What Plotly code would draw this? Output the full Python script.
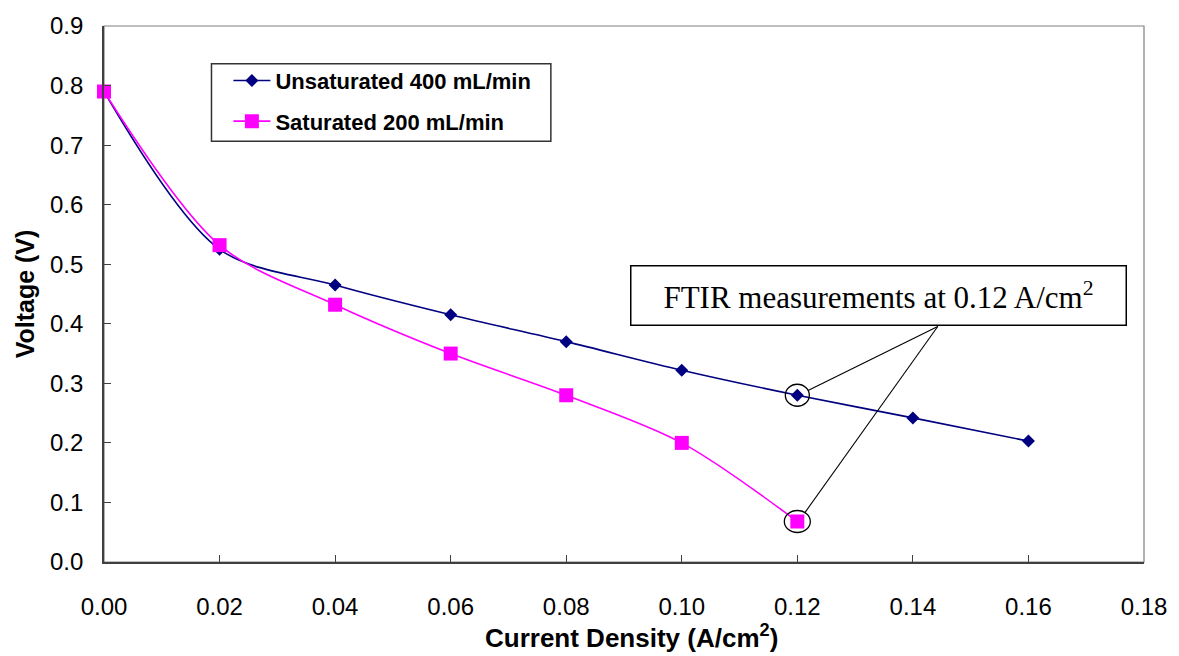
import plotly.graph_objects as go

# ---- data ----
current_density = [0.00, 0.02, 0.04, 0.06, 0.08, 0.10, 0.12, 0.14, 0.16]
unsat_400 = [0.79, 0.525, 0.465, 0.415, 0.370, 0.322, 0.280, 0.242, 0.203]
current_density_sat = [0.00, 0.02, 0.04, 0.06, 0.08, 0.10, 0.12]
sat_200 = [0.79, 0.532, 0.432, 0.350, 0.280, 0.200, 0.068]
x_ticks = [0.00, 0.02, 0.04, 0.06, 0.08, 0.10, 0.12, 0.14, 0.16, 0.18]
y_ticks = [0.0, 0.1, 0.2, 0.3, 0.4, 0.5, 0.6, 0.7, 0.8, 0.9]
series_names = ["Unsaturated 400 mL/min", "Saturated 200 mL/min"]
ftir_x = 0.12

W, H = 1179, 656
ML, MR, MT, MB = 104, 30, 22, 94
XR = [0, 0.18]
YR = [0, 0.9]
pw = W - ML - MR
ph = H - MT - MB
px_x = (XR[1] - XR[0]) / pw   # data per pixel
px_y = (YR[1] - YR[0]) / ph

NAVY = "#000080"
MAG = "#FF00FF"

fig = go.Figure()
fig.add_trace(go.Scatter(
    x=current_density, y=unsat_400, mode="lines+markers",
    name="<b>%s</b>" % series_names[0], legendgroup="a",
    line=dict(color=NAVY, width=1.6, shape="spline", smoothing=0.9),
    marker=dict(symbol="diamond", size=10, color=NAVY),
    cliponaxis=False,
))
fig.add_trace(go.Scatter(
    x=current_density_sat, y=sat_200, mode="lines+markers",
    name="<b>%s</b>" % series_names[1], legendgroup="b",
    line=dict(color=MAG, width=1.6, shape="spline", smoothing=0.9),
    marker=dict(symbol="square", size=14, color=MAG),
    cliponaxis=False,
))

# callout box
box_x = 0.134
box_y = 0.448
fig.add_annotation(
    x=box_x, y=box_y, xref="x", yref="y", showarrow=False,
    text="FTIR measurements at 0.12 A/cm<sup>2</sup>",
    font=dict(family="Liberation Serif, Times New Roman, serif", size=31, color="black"),
    bgcolor="white", bordercolor="black", borderwidth=1.5,
    width=494, height=58, borderpad=0,
)

# x-axis title
fig.add_annotation(
    x=(634 - ML) / pw, y=-(637 - (H - MB)) / ph, xref="paper", yref="paper",
    xanchor="center", yanchor="middle", showarrow=False,
    text="<b>Current Density (A/cm<sup>2</sup>)</b>",
    font=dict(family="Arial, Liberation Sans, sans-serif", size=26, color="black"),
)

# circles and leader lines
start_x = 0.1443
start_y = 0.3955
u_at = unsat_400[current_density.index(ftir_x)]
s_at = sat_200[current_density_sat.index(ftir_x)]
for yc, rx, ry in [(u_at, 12, 11), (s_at, 13, 11)]:
    fig.add_shape(type="circle", xref="x", yref="y",
                  xsizemode="pixel", ysizemode="pixel",
                  xanchor=ftir_x, yanchor=yc,
                  x0=-rx, x1=rx, y0=-ry, y1=ry,
                  line=dict(color="black", width=1.3))
    dxp = (start_x - ftir_x) / px_x
    dyp = (start_y - yc) / px_y
    L = (dxp ** 2 + dyp ** 2) ** 0.5
    ex = ftir_x + (dxp / L) * rx * px_x
    ey = yc + (dyp / L) * ry * px_y
    fig.add_shape(type="line", xref="x", yref="y",
                  x0=start_x, y0=start_y, x1=ex, y1=ey,
                  line=dict(color="black", width=1.1))

# plot-area frame (top/right gray)
fig.add_shape(type="rect", xref="paper", yref="paper", x0=0, y0=0, x1=1, y1=1,
              line=dict(color="#808080", width=1.2), layer="below")

# legend frame
fig.add_shape(type="rect", xref="paper", yref="paper",
              x0=(212 - ML) / pw, x1=(553 - ML) / pw,
              y0=(H - MB - 138) / ph, y1=(H - MB - 60) / ph,
              line=dict(color="#333333", width=1.5), fillcolor="white", layer="above")

axis_common = dict(
    showgrid=False, zeroline=False, showline=True, linecolor="#404040", linewidth=1.6,
    ticks="inside", ticklen=7, tickcolor="#404040", tickwidth=1,
    tickfont=dict(family="Arial, Liberation Sans, sans-serif", size=24, color="black"),
)

fig.update_layout(
    width=W, height=H,
    margin=dict(l=ML, r=MR, t=MT, b=MB),
    paper_bgcolor="white", plot_bgcolor="white",
    xaxis=dict(range=XR, tickvals=x_ticks, tickformat=".2f",
               ticklabelstandoff=22,
               **axis_common),
    yaxis=dict(range=YR, tickvals=y_ticks, tickformat=".1f",
               ticklabelstandoff=14,
               title=dict(text="<b>Voltage (V)</b>",
                          font=dict(family="Arial, Liberation Sans, sans-serif", size=25, color="black"),
                          standoff=8),
               **axis_common),
    legend=dict(x=(229 - ML) / pw, y=(H - MB - 56) / ph, xanchor="left", yanchor="top",
                bgcolor="rgba(0,0,0,0)", borderwidth=0,
                font=dict(family="Arial, Liberation Sans, sans-serif", size=22, color="black"),
                itemwidth=37, traceorder="grouped", tracegroupgap=9),
    showlegend=True,
)

fig.write_html("out.html")
